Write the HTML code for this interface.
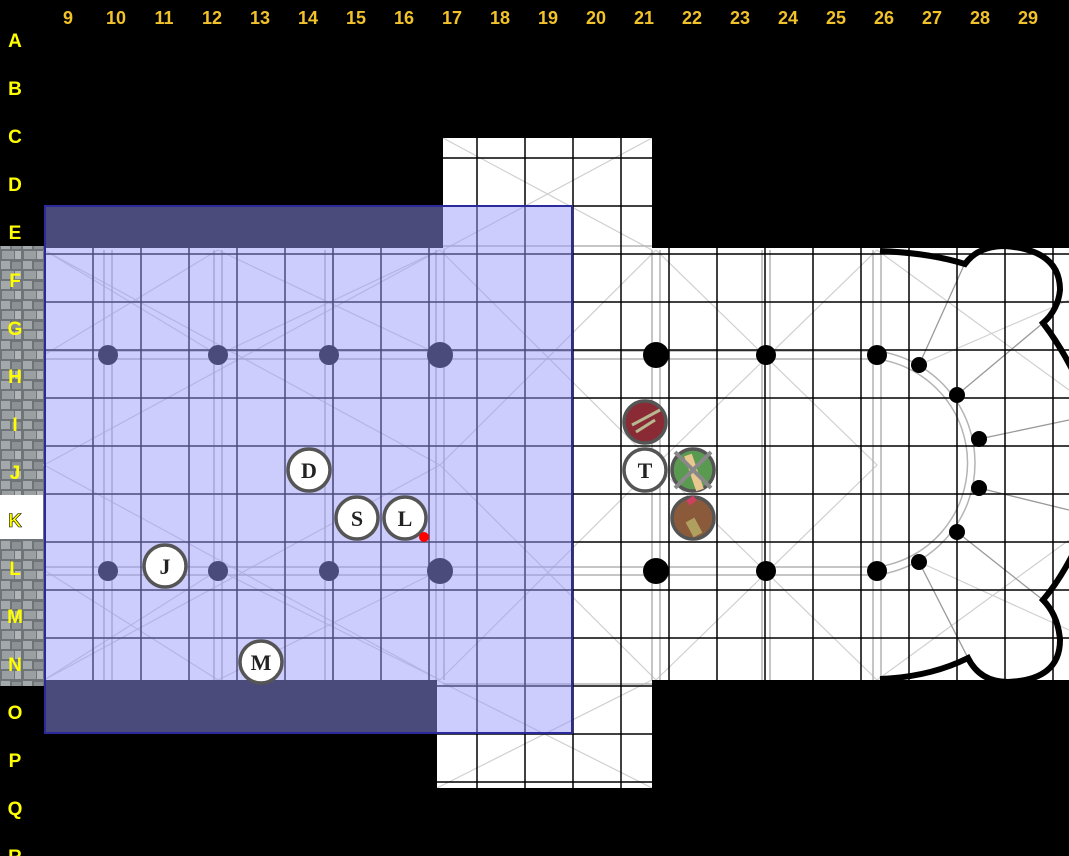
<!DOCTYPE html>
<html><head><meta charset="utf-8"><style>
html,body{margin:0;padding:0;background:#000;}
svg{display:block}
.c{font:bold 18px "Liberation Sans",sans-serif;fill:#f2c22a;text-anchor:middle}
.r{font:bold 19px "Liberation Sans",sans-serif;fill:#ffff00;text-anchor:middle}
.t{font:bold 22px "Liberation Serif",serif;fill:#222;text-anchor:middle}
</style></head><body>
<svg width="1069" height="856" viewBox="0 0 1069 856" xmlns="http://www.w3.org/2000/svg">
<defs>
<pattern id="st" width="22" height="20" patternUnits="userSpaceOnUse">
<rect width="22" height="20" fill="#6f7478"/>
<rect x="1" y="1" width="9" height="8" fill="#a3a8aa"/>
<rect x="12" y="2" width="9" height="7" fill="#8c9194"/>
<rect x="2" y="11" width="12" height="8" fill="#9a9fa2"/>
<rect x="15" y="11" width="6" height="8" fill="#b0b4b5"/>
</pattern>
</defs>
<rect width="1069" height="856" fill="#000"/>
<rect x="443" y="138" width="209" height="112" fill="#fff"/>
<rect x="44" y="248" width="1025" height="432" fill="#fff"/>
<rect x="437" y="680" width="215" height="108" fill="#fff"/>
<rect x="0" y="246" width="44" height="440" fill="url(#st)"/>
<g stroke="#d0d0d0" stroke-width="1.2" fill="none">
<path d="M443,138 L652,250 M652,138 L443,250"/>
<path d="M437,680 L652,788 M652,680 L437,788"/>
<path d="M44,250 L440,465 L44,680 M440,250 L44,465 L440,680"/>
<path d="M44,250 L218,355 M218,250 L44,355 M218,250 L440,355 M440,250 L218,355"/>
<path d="M44,570 L218,680 M218,570 L44,680 M218,570 L440,680 M440,570 L218,680"/>
<path d="M440,250 L656,465 L440,680 M656,250 L440,465 L656,680"/>
<path d="M656,250 L877,465 L656,680 M877,250 L656,465 L877,680"/>
<path d="M877,250 L1069,390 M877,680 L1069,540 M919,365 L1069,300 M919,562 L1069,630"/>
</g>
<g stroke="#999" stroke-width="1.3" fill="none">
<path d="M919,365 L965,263 M957,395 L1043,323 M979,439 L1069,420 M979,488 L1069,510 M957,532 L1043,600 M919,562 L968,658"/>
</g>
<g stroke="#b4b4b4" stroke-width="1.5" fill="none">
<path d="M104,250V680 M112,250V680 M214,250V680 M222,250V680 M325,250V680 M333,250V680 M436,250V680 M444,250V680 M652,250V680 M660,250V680 M762,250V680 M770,250V680 M873,250V680 M881,250V680"/>
<path d="M44,351H877 M44,359H877 M44,567H877 M44,575H877"/>
<path d="M877,351 A113,113 0 0 1 877,575 M877,359 A105,105 0 0 1 877,567"/>
<path d="M443,246H652 M443,684H652"/>
</g>
<g stroke="#000" stroke-width="1.5">
<path d="M45,138V788 M93,138V788 M141,138V788 M189,138V788 M237,138V788 M285,138V788 M333,138V788 M381,138V788 M429,138V788 M477,138V788 M525,138V788 M573,138V788 M621,138V788 M669,138V788 M717,138V788 M765,138V788 M813,138V788 M861,138V788 M909,138V788 M957,138V788 M1005,138V788 M1053,138V788"/>
<path d="M44,158H1069 M44,206H1069 M44,254H1069 M44,302H1069 M44,350H1069 M44,398H1069 M44,446H1069 M44,494H1069 M44,542H1069 M44,590H1069 M44,638H1069 M44,686H1069 M44,734H1069 M44,782H1069"/>
</g>
<g stroke="#000" stroke-width="6" fill="none">
<path d="M880,251 Q930,253 965,264 Q978,246 1005,246 Q1060,250 1060,290 Q1058,310 1043,323 Q1060,345 1075,375"/>
<path d="M880,679 Q930,677 968,658 Q980,682 1008,682 Q1060,680 1060,640 Q1058,615 1043,600 Q1060,580 1075,550"/>
</g>
<rect x="44" y="100" width="399" height="148" fill="#000"/>
<rect x="652" y="100" width="417" height="148" fill="#000"/>
<rect x="44" y="680" width="393" height="176" fill="#000"/>
<rect x="652" y="680" width="417" height="176" fill="#000"/>
<rect x="44" y="788" width="1025" height="68" fill="#000"/>
<rect x="44" y="100" width="1025" height="38" fill="#000"/>
<g stroke="#000" stroke-width="1.5">
<path d="M93,206V248 M141,206V248 M189,206V248 M237,206V248 M285,206V248 M333,206V248 M381,206V248 M429,206V248"/>
<path d="M93,680V734 M141,680V734 M189,680V734 M237,680V734 M285,680V734 M333,680V734 M381,680V734 M429,680V734"/>
</g>
<g fill="#000">
<circle cx="108" cy="355" r="10"/><circle cx="218" cy="355" r="10"/><circle cx="329" cy="355" r="10"/><circle cx="440" cy="355" r="13"/>
<circle cx="656" cy="355" r="13"/><circle cx="766" cy="355" r="10"/><circle cx="877" cy="355" r="10"/>
<circle cx="108" cy="571" r="10"/><circle cx="218" cy="571" r="10"/><circle cx="329" cy="571" r="10"/><circle cx="440" cy="571" r="13"/>
<circle cx="656" cy="571" r="13"/><circle cx="766" cy="571" r="10"/><circle cx="877" cy="571" r="10"/>
<circle cx="919" cy="365" r="8"/><circle cx="957" cy="395" r="8"/><circle cx="979" cy="439" r="8"/>
<circle cx="979" cy="488" r="8"/><circle cx="957" cy="532" r="8"/><circle cx="919" cy="562" r="8"/>
</g>
<rect x="45" y="206" width="527" height="527" fill="rgb(150,150,250)" fill-opacity="0.49" stroke="#2a2a9a" stroke-width="2"/>
<g stroke="#555" stroke-width="3.5" fill="#fff">
<circle cx="309" cy="470" r="21"/><circle cx="357" cy="518" r="21"/><circle cx="405" cy="518" r="21"/>
<circle cx="165" cy="566" r="21"/><circle cx="261" cy="662" r="21"/><circle cx="645" cy="470" r="21"/>
<circle cx="645" cy="422" r="21" fill="#8a2a35"/>
<circle cx="693" cy="470" r="21" fill="#5a9a50"/>
<circle cx="693" cy="518" r="21" fill="#8a5a3a"/>
</g>
<path d="M632,425 L660,410 M636,432 L655,420" stroke="#b8b890" stroke-width="3"/>
<path d="M688,455 L700,490" stroke="#e8c890" stroke-width="8"/>
<path d="M690,520 L698,535" stroke="#b0a060" stroke-width="10"/>
<path d="M688,503 L695,498" stroke="#d04060" stroke-width="6"/>
<path d="M675,452 L711,488 M711,452 L675,488" stroke="#888" stroke-width="4"/>
<g class="t">
<text x="309" y="478">D</text><text x="357" y="526">S</text><text x="405" y="526">L</text>
<text x="165" y="574">J</text><text x="261" y="670">M</text><text x="645" y="478">T</text>
</g>
<circle cx="424" cy="537" r="5" fill="#f00"/>
<g class="c">
<text x="68" y="24">9</text><text x="116" y="24">10</text><text x="164" y="24">11</text><text x="212" y="24">12</text>
<text x="260" y="24">13</text><text x="308" y="24">14</text><text x="356" y="24">15</text><text x="404" y="24">16</text>
<text x="452" y="24">17</text><text x="500" y="24">18</text><text x="548" y="24">19</text><text x="596" y="24">20</text>
<text x="644" y="24">21</text><text x="692" y="24">22</text><text x="740" y="24">23</text><text x="788" y="24">24</text>
<text x="836" y="24">25</text><text x="884" y="24">26</text><text x="932" y="24">27</text><text x="980" y="24">28</text>
<text x="1028" y="24">29</text>
</g>
<rect x="0" y="495" width="43" height="44" fill="#fff"/>
<g class="r">
<text x="15" y="47">A</text><text x="15" y="95">B</text><text x="15" y="143">C</text><text x="15" y="191">D</text>
<text x="15" y="239">E</text><text x="15" y="287">F</text><text x="15" y="335">G</text><text x="15" y="383">H</text>
<text x="15" y="431">I</text><text x="15" y="479">J</text><text x="15" y="527" stroke="#000" stroke-width="0.6">K</text><text x="15" y="575">L</text>
<text x="15" y="623">M</text><text x="15" y="671">N</text><text x="15" y="719">O</text><text x="15" y="767">P</text>
<text x="15" y="815">Q</text><text x="15" y="863">R</text>
</g>
</svg>
</body></html>
